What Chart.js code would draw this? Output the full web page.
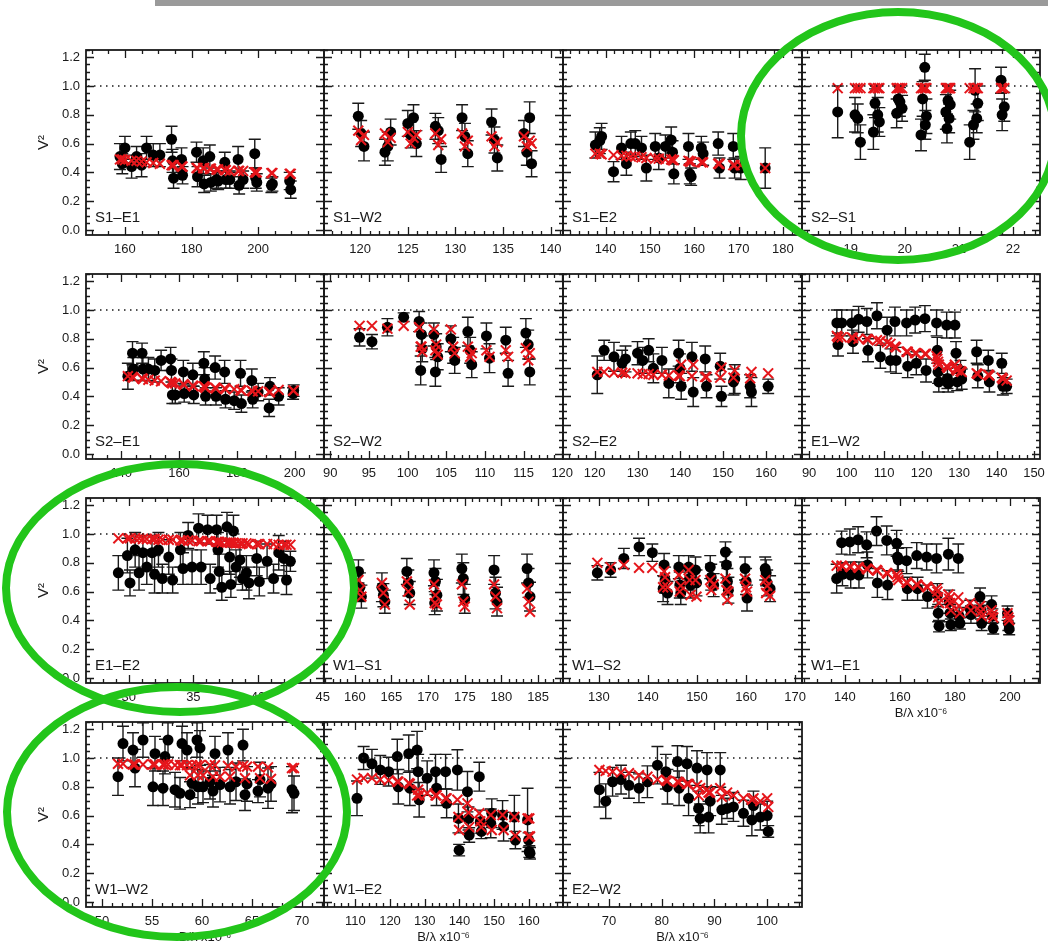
<!DOCTYPE html>
<html>
<head>
<meta charset="utf-8">
<script src="https://cdn.jsdelivr.net/npm/chart.js@4.4.1/dist/chart.umd.min.js"></script>
<style>
  html, body { margin: 0; padding: 0; background: #fff; }
  body { width: 1048px; height: 945px; position: relative; overflow: hidden; }
  canvas { position: absolute; }
  .bar { position: absolute; left: 155px; top: 0; width: 893px; height: 6px; background: #9a9a9a; }
  .ring { position: absolute; box-sizing: border-box; border: 8px solid #22c51a; border-radius: 50%; z-index: 5; }
</style>
</head>
<body>
<div class="bar"></div>
<div class="ring" style="left:737px; top:8px; width:322px; height:256px;"></div>
<div class="ring" style="left:2px; top:460px; width:356px; height:256px;"></div>
<div class="ring" style="left:3px; top:683px; width:348px; height:258px;"></div>

<script>
// ---- S1-E1 ----
const s1e1X = [158.5, 159.2, 160.0, 162.0, 163.5, 165.0, 166.5, 168.5, 170.5, 174.0, 174.3, 174.6, 177.0, 177.3, 181.5, 181.8, 183.5, 183.8, 185.5, 185.8, 187.5, 188.0, 190.0, 190.3, 191.5, 194.0, 194.3, 195.5, 199.0, 199.3, 199.6, 204.0, 204.3, 209.5, 209.8];
const s1e1V2 = [0.51, 0.46, 0.57, 0.44, 0.51, 0.45, 0.57, 0.52, 0.52, 0.63, 0.48, 0.36, 0.49, 0.38, 0.54, 0.37, 0.48, 0.32, 0.51, 0.33, 0.35, 0.34, 0.47, 0.35, 0.35, 0.49, 0.31, 0.35, 0.53, 0.36, 0.33, 0.31, 0.32, 0.34, 0.28];
const s1e1Err = [0.09, 0.07, 0.08, 0.08, 0.07, 0.08, 0.08, 0.08, 0.08, 0.09, 0.08, 0.07, 0.08, 0.06, 0.07, 0.07, 0.09, 0.06, 0.08, 0.06, 0.06, 0.06, 0.07, 0.06, 0.06, 0.09, 0.06, 0.06, 0.10, 0.07, 0.06, 0.05, 0.05, 0.06, 0.06];
const s1e1Model = [0.49, 0.49, 0.485, 0.48, 0.48, 0.475, 0.47, 0.465, 0.46, 0.45, 0.45, 0.45, 0.44, 0.44, 0.43, 0.43, 0.43, 0.43, 0.425, 0.425, 0.42, 0.42, 0.415, 0.415, 0.41, 0.41, 0.41, 0.41, 0.40, 0.40, 0.40, 0.395, 0.395, 0.39, 0.39];

// ---- S1-W2 ----
const s1w2X = [119.8, 120.1, 120.4, 122.6, 122.9, 123.2, 125.0, 125.3, 125.6, 125.9, 127.9, 128.2, 128.5, 130.7, 131.0, 131.3, 133.8, 134.1, 134.4, 137.2, 137.5, 137.8, 138.0];
const s1w2V2 = [0.79, 0.67, 0.58, 0.54, 0.58, 0.68, 0.74, 0.66, 0.78, 0.60, 0.72, 0.69, 0.49, 0.78, 0.65, 0.53, 0.75, 0.625, 0.50, 0.67, 0.54, 0.78, 0.46];
const s1w2Err = [0.09, 0.09, 0.10, 0.09, 0.10, 0.09, 0.09, 0.09, 0.09, 0.09, 0.09, 0.09, 0.09, 0.09, 0.09, 0.09, 0.09, 0.09, 0.09, 0.09, 0.09, 0.11, 0.09];
const s1w2Model = [0.69, 0.625, 0.66, 0.67, 0.61, 0.64, 0.68, 0.60, 0.64, 0.66, 0.67, 0.59, 0.63, 0.67, 0.58, 0.62, 0.65, 0.58, 0.61, 0.65, 0.58, 0.62, 0.60];

// ---- S1-E2 ----
const s1e2X = [137.7, 138.7, 139.1, 141.8, 143.6, 144.7, 145.7, 146.7, 148.1, 149.2, 151.2, 152.0, 153.5, 154.8, 155.1, 155.4, 158.7, 159.0, 159.3, 161.6, 162.0, 165.4, 165.7, 168.8, 169.1, 170.5, 176.0];
const s1e2V2 = [0.59, 0.62, 0.65, 0.405, 0.57, 0.46, 0.60, 0.60, 0.57, 0.43, 0.58, 0.50, 0.58, 0.625, 0.54, 0.39, 0.58, 0.39, 0.37, 0.57, 0.53, 0.60, 0.43, 0.58, 0.43, 0.43, 0.43];
const s1e2Err = [0.09, 0.09, 0.09, 0.07, 0.08, 0.08, 0.08, 0.09, 0.08, 0.09, 0.09, 0.08, 0.08, 0.09, 0.08, 0.07, 0.09, 0.07, 0.06, 0.08, 0.08, 0.08, 0.07, 0.09, 0.07, 0.08, 0.14];
const s1e2Model = [0.53, 0.53, 0.525, 0.52, 0.515, 0.515, 0.51, 0.51, 0.505, 0.50, 0.495, 0.495, 0.49, 0.49, 0.485, 0.485, 0.48, 0.475, 0.475, 0.47, 0.47, 0.46, 0.46, 0.45, 0.45, 0.45, 0.43];

// ---- S2-S1 ----
const s2s1X = [18.76, 19.08, 19.13, 19.18, 19.45, 19.50, 19.53, 19.42, 19.88, 19.91, 19.95, 19.85, 20.37, 20.33, 20.40, 20.38, 20.30, 20.80, 20.84, 20.76, 20.82, 20.78, 21.30, 21.35, 21.33, 21.27, 21.20, 21.78, 21.84, 21.80];
const s2s1V2 = [0.82, 0.80, 0.775, 0.61, 0.88, 0.80, 0.75, 0.68, 0.91, 0.89, 0.845, 0.81, 1.13, 0.91, 0.79, 0.73, 0.66, 0.90, 0.87, 0.82, 0.775, 0.705, 0.97, 0.88, 0.775, 0.73, 0.61, 1.04, 0.855, 0.80];
const s2s1Err = [0.18, 0.12, 0.10, 0.12, 0.10, 0.12, 0.10, 0.12, 0.09, 0.10, 0.09, 0.10, 0.09, 0.12, 0.12, 0.10, 0.11, 0.11, 0.10, 0.12, 0.10, 0.10, 0.15, 0.12, 0.10, 0.10, 0.12, 0.09, 0.10, 0.11];
const s2s1Model = [0.985, 0.985, 0.985, 0.985, 0.985, 0.985, 0.985, 0.985, 0.985, 0.985, 0.985, 0.985, 0.985, 0.985, 0.985, 0.985, 0.985, 0.985, 0.985, 0.985, 0.985, 0.985, 0.985, 0.985, 0.985, 0.985, 0.985, 0.985, 0.985, 0.985];

// ---- S2-E1 ----
const s2e1X = [142.3, 143.9, 144.2, 147.2, 147.5, 149.4, 151.6, 153.8, 157.1, 157.4, 157.7, 158.7, 161.5, 161.8, 164.8, 165.1, 168.6, 168.9, 169.2, 172.5, 172.8, 175.8, 176.1, 179.1, 181.3, 181.6, 185.2, 185.5, 187.4, 191.2, 191.5, 194.5, 199.5, 199.7];
const s2e1V2 = [0.54, 0.70, 0.59, 0.70, 0.59, 0.59, 0.58, 0.65, 0.66, 0.58, 0.41, 0.41, 0.57, 0.42, 0.55, 0.41, 0.63, 0.52, 0.40, 0.60, 0.40, 0.57, 0.38, 0.37, 0.56, 0.35, 0.51, 0.38, 0.43, 0.32, 0.47, 0.40, 0.42, 0.44];
const s2e1Err = [0.09, 0.08, 0.08, 0.07, 0.08, 0.08, 0.08, 0.07, 0.08, 0.08, 0.06, 0.06, 0.08, 0.06, 0.08, 0.06, 0.08, 0.08, 0.06, 0.08, 0.06, 0.08, 0.06, 0.06, 0.09, 0.06, 0.08, 0.06, 0.06, 0.06, 0.06, 0.06, 0.04, 0.04];
const s2e1Model = [0.54, 0.535, 0.53, 0.525, 0.52, 0.515, 0.51, 0.505, 0.50, 0.495, 0.49, 0.49, 0.485, 0.48, 0.475, 0.47, 0.47, 0.465, 0.46, 0.46, 0.455, 0.455, 0.45, 0.45, 0.445, 0.44, 0.44, 0.435, 0.435, 0.43, 0.43, 0.445, 0.44, 0.44];

// ---- S2-W2 ----
const s2w2X = [93.8, 95.4, 97.4, 99.5, 101.5, 101.8, 101.9, 101.7, 103.4, 103.7, 103.9, 103.6, 105.6, 105.9, 106.1, 107.8, 108.1, 108.3, 110.2, 110.6, 112.7, 113.0, 115.3, 115.6, 115.8];
const s2w2V2 = [0.81, 0.78, 0.88, 0.95, 0.92, 0.83, 0.73, 0.58, 0.83, 0.745, 0.675, 0.57, 0.80, 0.72, 0.65, 0.85, 0.72, 0.62, 0.82, 0.665, 0.79, 0.56, 0.84, 0.76, 0.57];
const s2w2Err = [0.06, 0.05, 0.06, 0.03, 0.07, 0.08, 0.09, 0.10, 0.08, 0.09, 0.09, 0.10, 0.09, 0.09, 0.09, 0.10, 0.09, 0.09, 0.09, 0.10, 0.09, 0.09, 0.10, 0.10, 0.09];
const s2w2Model = [0.89, 0.89, 0.87, 0.89, 0.88, 0.745, 0.71, 0.745, 0.865, 0.76, 0.69, 0.72, 0.865, 0.745, 0.70, 0.745, 0.675, 0.70, 0.72, 0.675, 0.72, 0.675, 0.735, 0.65, 0.70];

// ---- S2-E2 ----
const s2e2X = [120.6, 122.2, 124.5, 126.4, 127.2, 130.0, 131.2, 132.6, 133.7, 135.7, 137.3, 139.6, 139.9, 140.2, 142.7, 143.0, 145.8, 146.1, 149.3, 149.6, 152.4, 152.7, 156.3, 156.6, 160.5];
const s2e2V2 = [0.55, 0.72, 0.675, 0.63, 0.66, 0.70, 0.65, 0.72, 0.595, 0.65, 0.49, 0.70, 0.595, 0.47, 0.675, 0.43, 0.66, 0.47, 0.61, 0.40, 0.50, 0.52, 0.47, 0.43, 0.47];
const s2e2Err = [0.13, 0.07, 0.10, 0.09, 0.09, 0.08, 0.09, 0.08, 0.10, 0.09, 0.10, 0.09, 0.10, 0.09, 0.10, 0.10, 0.09, 0.08, 0.09, 0.07, 0.09, 0.10, 0.08, 0.10, 0.05];
const s2e2Model = [0.57, 0.57, 0.565, 0.565, 0.56, 0.56, 0.555, 0.555, 0.55, 0.55, 0.545, 0.545, 0.54, 0.62, 0.54, 0.62, 0.535, 0.535, 0.53, 0.60, 0.53, 0.58, 0.525, 0.57, 0.56];

// ---- E1-W2 ----
const e1w2X = [97.4, 97.7, 98.7, 101.4, 101.7, 103.2, 105.4, 105.7, 108.1, 109.0, 110.8, 111.7, 112.9, 113.2, 116.0, 116.3, 118.3, 118.6, 120.9, 121.2, 124.0, 124.2, 124.4, 124.6, 126.7, 126.9, 127.1, 128.9, 129.2, 129.5, 130.4, 130.7, 134.7, 135.0, 137.8, 138.1, 141.4, 141.7, 142.7];
const e1w2V2 = [0.91, 0.76, 0.91, 0.91, 0.78, 0.935, 0.92, 0.72, 0.96, 0.675, 0.86, 0.65, 0.92, 0.65, 0.91, 0.61, 0.93, 0.63, 0.94, 0.58, 0.91, 0.72, 0.57, 0.50, 0.895, 0.525, 0.49, 0.895, 0.70, 0.50, 0.58, 0.52, 0.71, 0.54, 0.65, 0.50, 0.63, 0.47, 0.47];
const e1w2Err = [0.09, 0.08, 0.09, 0.09, 0.08, 0.09, 0.09, 0.08, 0.09, 0.08, 0.09, 0.08, 0.10, 0.09, 0.09, 0.08, 0.09, 0.08, 0.09, 0.08, 0.09, 0.09, 0.08, 0.07, 0.09, 0.07, 0.06, 0.09, 0.08, 0.06, 0.07, 0.07, 0.08, 0.08, 0.07, 0.07, 0.07, 0.06, 0.05];
const e1w2Model = [0.82, 0.81, 0.81, 0.81, 0.805, 0.80, 0.80, 0.795, 0.79, 0.785, 0.775, 0.765, 0.745, 0.74, 0.71, 0.71, 0.70, 0.70, 0.695, 0.695, 0.68, 0.66, 0.64, 0.62, 0.61, 0.60, 0.60, 0.62, 0.59, 0.58, 0.575, 0.57, 0.56, 0.555, 0.55, 0.545, 0.53, 0.52, 0.51];

// ---- E1-E2 ----
const e1e2X = [29.2, 29.9, 30.1, 30.5, 30.8, 31.1, 31.4, 31.8, 32.0, 32.3, 32.6, 33.1, 33.4, 34.0, 34.2, 34.6, 34.9, 35.4, 35.6, 36.1, 36.3, 36.8, 36.9, 37.0, 37.2, 37.6, 37.8, 37.9, 38.1, 38.3, 38.6, 38.8, 39.1, 39.3, 39.9, 40.1, 40.7, 41.2, 41.6, 42.0, 42.2, 42.5];
const e1e2V2 = [0.73, 0.85, 0.66, 0.89, 0.73, 0.87, 0.77, 0.87, 0.72, 0.89, 0.69, 0.84, 0.68, 0.89, 0.76, 0.99, 0.77, 1.04, 0.77, 1.03, 0.69, 1.03, 0.89, 0.74, 0.63, 1.05, 0.84, 0.65, 1.02, 0.77, 0.82, 0.69, 0.73, 0.66, 0.83, 0.67, 0.81, 0.69, 0.87, 0.83, 0.68, 0.81];
const e1e2Err = [0.12, 0.12, 0.09, 0.12, 0.12, 0.12, 0.12, 0.12, 0.13, 0.12, 0.10, 0.12, 0.09, 0.12, 0.11, 0.09, 0.12, 0.10, 0.12, 0.10, 0.10, 0.10, 0.12, 0.12, 0.09, 0.10, 0.12, 0.09, 0.11, 0.12, 0.12, 0.08, 0.12, 0.11, 0.12, 0.10, 0.12, 0.10, 0.12, 0.12, 0.10, 0.07];
const e1e2Model = [0.97, 0.97, 0.97, 0.97, 0.97, 0.965, 0.965, 0.965, 0.965, 0.96, 0.96, 0.96, 0.96, 0.955, 0.955, 0.955, 0.955, 0.95, 0.95, 0.95, 0.95, 0.945, 0.945, 0.945, 0.94, 0.94, 0.94, 0.94, 0.94, 0.935, 0.935, 0.935, 0.935, 0.93, 0.93, 0.93, 0.93, 0.93, 0.925, 0.925, 0.925, 0.925];

// ---- W1-S1 ----
const w1s1X = [160.5, 160.7, 160.9, 163.7, 163.9, 164.1, 167.1, 167.3, 167.5, 170.8, 171.0, 171.2, 170.9, 174.6, 174.8, 175.0, 179.0, 179.2, 179.4, 183.5, 183.7, 183.9];
const w1s1V2 = [0.74, 0.63, 0.565, 0.63, 0.575, 0.53, 0.74, 0.66, 0.59, 0.73, 0.67, 0.575, 0.52, 0.76, 0.69, 0.55, 0.75, 0.59, 0.53, 0.76, 0.66, 0.565];
const w1s1Err = [0.08, 0.10, 0.08, 0.10, 0.08, 0.08, 0.09, 0.09, 0.08, 0.09, 0.09, 0.11, 0.08, 0.10, 0.11, 0.10, 0.10, 0.11, 0.10, 0.10, 0.10, 0.10];
const w1s1Model = [0.68, 0.61, 0.565, 0.66, 0.59, 0.51, 0.67, 0.60, 0.51, 0.65, 0.575, 0.51, 0.52, 0.65, 0.53, 0.495, 0.65, 0.565, 0.485, 0.62, 0.53, 0.46];

// ---- W1-S2 ----
const w1s2X = [129.7, 132.4, 135.1, 138.2, 140.9, 143.3, 143.5, 143.1, 144.0, 146.3, 146.5, 146.7, 148.3, 148.5, 148.7, 149.7, 149.9, 152.7, 152.9, 153.4, 155.8, 156.0, 156.2, 156.4, 159.8, 160.0, 160.2, 163.9, 164.1, 164.3, 164.9];
const w1s2V2 = [0.73, 0.75, 0.83, 0.91, 0.87, 0.785, 0.68, 0.62, 0.59, 0.77, 0.645, 0.59, 0.77, 0.69, 0.645, 0.75, 0.66, 0.77, 0.70, 0.645, 0.875, 0.785, 0.67, 0.61, 0.76, 0.67, 0.555, 0.76, 0.73, 0.66, 0.62];
const w1s2Err = [0.05, 0.05, 0.07, 0.06, 0.06, 0.08, 0.09, 0.09, 0.08, 0.08, 0.09, 0.08, 0.08, 0.08, 0.09, 0.09, 0.09, 0.08, 0.09, 0.08, 0.07, 0.09, 0.09, 0.09, 0.08, 0.09, 0.09, 0.08, 0.09, 0.09, 0.09];
const w1s2Model = [0.80, 0.77, 0.785, 0.765, 0.765, 0.74, 0.70, 0.63, 0.63, 0.715, 0.60, 0.64, 0.75, 0.68, 0.576, 0.68, 0.565, 0.68, 0.61, 0.65, 0.69, 0.61, 0.54, 0.60, 0.69, 0.63, 0.60, 0.68, 0.59, 0.64, 0.57];

// ---- W1-E1 ----
const w1e1X = [137.0, 138.8, 139.1, 141.8, 142.1, 144.8, 145.1, 147.9, 148.2, 151.5, 151.8, 155.2, 155.5, 158.8, 159.1, 159.4, 162.4, 162.7, 166.1, 166.4, 169.7, 170.0, 173.3, 173.6, 173.9, 174.2, 177.6, 177.9, 178.2, 178.5, 181.2, 181.5, 181.8, 185.5, 185.8, 189.1, 189.4, 189.7, 193.3, 193.6, 193.9, 199.1, 199.4, 199.7];
const w1e1V2 = [0.69, 0.94, 0.72, 0.945, 0.715, 0.96, 0.715, 0.925, 0.785, 1.02, 0.66, 0.955, 0.645, 0.935, 0.84, 0.82, 0.815, 0.62, 0.85, 0.62, 0.84, 0.565, 0.83, 0.575, 0.45, 0.36, 0.86, 0.53, 0.45, 0.37, 0.83, 0.43, 0.38, 0.48, 0.44, 0.565, 0.47, 0.38, 0.51, 0.43, 0.345, 0.45, 0.38, 0.34];
const w1e1Err = [0.10, 0.08, 0.08, 0.09, 0.09, 0.09, 0.09, 0.09, 0.09, 0.10, 0.10, 0.10, 0.10, 0.09, 0.09, 0.08, 0.09, 0.08, 0.09, 0.08, 0.09, 0.08, 0.10, 0.08, 0.06, 0.04, 0.11, 0.08, 0.06, 0.04, 0.10, 0.06, 0.04, 0.06, 0.06, 0.06, 0.06, 0.05, 0.06, 0.05, 0.04, 0.05, 0.05, 0.04];
const w1e1Model = [0.78, 0.78, 0.775, 0.775, 0.77, 0.77, 0.765, 0.76, 0.755, 0.75, 0.745, 0.73, 0.725, 0.72, 0.70, 0.68, 0.665, 0.66, 0.65, 0.645, 0.635, 0.63, 0.62, 0.60, 0.56, 0.52, 0.58, 0.55, 0.52, 0.47, 0.56, 0.50, 0.45, 0.52, 0.47, 0.50, 0.46, 0.43, 0.47, 0.44, 0.42, 0.45, 0.42, 0.40];

// ---- W1-W2 ----
const w1w2X = [51.6, 52.1, 53.1, 53.3, 54.1, 55.1, 55.3, 56.1, 56.3, 56.6, 57.3, 57.8, 58.0, 58.5, 58.8, 59.0, 59.5, 59.6, 59.8, 60.1, 60.8, 61.1, 61.3, 61.8, 62.6, 62.8, 63.4, 64.1, 64.3, 64.5, 65.6, 65.8, 66.6, 66.9, 69.0, 69.2];
const w1w2V2 = [0.87, 1.10, 1.055, 0.93, 1.125, 0.80, 1.03, 0.79, 1.01, 1.125, 0.78, 0.755, 1.10, 1.055, 0.745, 0.825, 1.125, 0.80, 1.07, 0.80, 0.835, 0.77, 1.03, 0.815, 1.055, 0.80, 0.835, 1.09, 0.745, 0.82, 0.77, 0.85, 0.79, 0.82, 0.78, 0.755];
const w1w2Err = [0.13, 0.12, 0.12, 0.13, 0.12, 0.13, 0.12, 0.12, 0.12, 0.12, 0.12, 0.11, 0.12, 0.12, 0.09, 0.10, 0.12, 0.12, 0.12, 0.11, 0.12, 0.11, 0.12, 0.12, 0.12, 0.12, 0.13, 0.11, 0.11, 0.12, 0.08, 0.12, 0.14, 0.12, 0.16, 0.12];
const w1w2Model = [0.96, 0.96, 0.955, 0.955, 0.955, 0.955, 0.955, 0.955, 0.955, 0.955, 0.95, 0.95, 0.95, 0.95, 0.88, 0.95, 0.95, 0.88, 0.95, 0.88, 0.95, 0.87, 0.95, 0.87, 0.945, 0.87, 0.94, 0.945, 0.86, 0.94, 0.94, 0.86, 0.935, 0.855, 0.93, 0.93];

// ---- W1-E2 ----
const w1e2X = [110.5, 112.4, 114.8, 117.2, 119.6, 122.1, 122.4, 125.4, 125.7, 127.8, 128.1, 128.4, 130.7, 133.1, 133.4, 136.0, 136.3, 139.4, 139.7, 139.9, 142.3, 142.6, 142.8, 145.7, 146.0, 146.3, 149.0, 149.3, 152.4, 152.7, 155.8, 156.1, 159.6, 159.9, 160.1, 160.3];
const w1e2V2 = [0.72, 1.00, 0.96, 0.917, 0.905, 1.01, 0.80, 1.03, 0.79, 1.055, 0.905, 0.71, 0.86, 0.905, 0.79, 0.905, 0.685, 0.917, 0.58, 0.36, 0.766, 0.58, 0.465, 0.87, 0.558, 0.49, 0.546, 0.616, 0.604, 0.523, 0.59, 0.43, 0.57, 0.43, 0.35, 0.338];
const w1e2Err = [0.12, 0.08, 0.10, 0.10, 0.10, 0.12, 0.12, 0.13, 0.12, 0.13, 0.12, 0.12, 0.12, 0.12, 0.12, 0.12, 0.10, 0.14, 0.10, 0.04, 0.14, 0.08, 0.05, 0.10, 0.08, 0.05, 0.10, 0.10, 0.10, 0.10, 0.15, 0.06, 0.22, 0.05, 0.04, 0.04];
const w1e2Model = [0.85, 0.86, 0.86, 0.85, 0.845, 0.835, 0.835, 0.825, 0.82, 0.74, 0.78, 0.74, 0.755, 0.74, 0.74, 0.72, 0.72, 0.71, 0.59, 0.50, 0.685, 0.62, 0.52, 0.616, 0.56, 0.52, 0.604, 0.50, 0.604, 0.50, 0.59, 0.46, 0.58, 0.455, 0.58, 0.455];

// ---- E2-W2 ----
const e2w2X = [68.2, 69.4, 70.7, 72.3, 73.8, 75.7, 77.3, 79.2, 80.8, 81.1, 83.0, 83.3, 84.8, 85.1, 86.7, 87.0, 87.3, 88.6, 88.9, 89.2, 91.1, 91.4, 92.4, 93.6, 95.5, 97.1, 97.4, 98.7, 100.0, 100.2];
const e2w2V2 = [0.78, 0.70, 0.835, 0.85, 0.81, 0.79, 0.835, 0.95, 0.905, 0.80, 0.975, 0.79, 0.96, 0.72, 0.93, 0.65, 0.58, 0.917, 0.59, 0.70, 0.917, 0.64, 0.65, 0.66, 0.616, 0.57, 0.67, 0.59, 0.60, 0.49];
const e2w2Err = [0.12, 0.12, 0.10, 0.10, 0.09, 0.10, 0.11, 0.13, 0.12, 0.12, 0.11, 0.12, 0.12, 0.12, 0.12, 0.12, 0.10, 0.12, 0.11, 0.10, 0.12, 0.10, 0.07, 0.10, 0.09, 0.11, 0.10, 0.09, 0.10, 0.04];
const e2w2Model = [0.917, 0.91, 0.905, 0.90, 0.894, 0.88, 0.87, 0.85, 0.845, 0.84, 0.835, 0.83, 0.82, 0.82, 0.81, 0.74, 0.79, 0.78, 0.76, 0.76, 0.79, 0.73, 0.76, 0.74, 0.72, 0.71, 0.72, 0.70, 0.72, 0.66];

// axis settings shared by every panel
const yTickValues = [0.0, 0.2, 0.4, 0.6, 0.8, 1.0, 1.2];
const Y_MIN = -0.035, Y_MAX = 1.25;
const AXIS_TITLE = 'B/λ x10⁻⁶';
const Y_TITLE = 'V²';

// grid of panel boxes on the page
const COL_LEFT = [86, 324, 563, 802];
const COL_RIGHT = [324, 563, 802, 1040];
const ROW_TOP = [50, 274, 498, 722];
const PANEL_H = 185;

const RED = '#e5161b';
const INK = '#1a1a1a';
const FONT = "'Liberation Sans', Arial, sans-serif";

const panels = [
  { name: 'S1–E1', row: 0, col: 0, x: s1e1X, v2: s1e1V2, err: s1e1Err, model: s1e1Model, min: 148.3, max: 219.8, step: 20, minor: 5 },
  { name: 'S1–W2', row: 0, col: 1, x: s1w2X, v2: s1w2V2, err: s1w2Err, model: s1w2Model, min: 116.2, max: 141.3, step: 5, minor: 1 },
  { name: 'S1–E2', row: 0, col: 2, x: s1e2X, v2: s1e2V2, err: s1e2Err, model: s1e2Model, min: 130.4, max: 184.3, step: 10, minor: 2 },
  { name: 'S2–S1', row: 0, col: 3, x: s2s1X, v2: s2s1V2, err: s2s1Err, model: s2s1Model, min: 18.1, max: 22.5, step: 1, minor: 0.2 },
  { name: 'S2–E1', row: 1, col: 0, x: s2e1X, v2: s2e1V2, err: s2e1Err, model: s2e1Model, min: 127.8, max: 210.2, step: 20, minor: 5 },
  { name: 'S2–W2', row: 1, col: 1, x: s2w2X, v2: s2w2V2, err: s2w2Err, model: s2w2Model, min: 89.2, max: 120.1, step: 5, minor: 1 },
  { name: 'S2–E2', row: 1, col: 2, x: s2e2X, v2: s2e2V2, err: s2e2Err, model: s2e2Model, min: 112.6, max: 168.4, step: 10, minor: 2 },
  { name: 'E1–W2', row: 1, col: 3, x: e1w2X, v2: e1w2V2, err: e1w2Err, model: e1w2Model, min: 88.1, max: 151.6, step: 10, minor: 2 },
  { name: 'E1–E2', row: 2, col: 0, x: e1e2X, v2: e1e2V2, err: e1e2Err, model: e1e2Model, min: 26.7, max: 45.1, step: 5, minor: 1 },
  { name: 'W1–S1', row: 2, col: 1, x: w1s1X, v2: w1s1V2, err: w1s1Err, model: w1s1Model, min: 155.8, max: 188.4, step: 5, minor: 1 },
  { name: 'W1–S2', row: 2, col: 2, x: w1s2X, v2: w1s2V2, err: w1s2Err, model: w1s2Model, min: 122.7, max: 171.4, step: 10, minor: 2 },
  { name: 'W1–E1', row: 2, col: 3, x: w1e1X, v2: w1e1V2, err: w1e1Err, model: w1e1Model, min: 124.4, max: 210.9, step: 20, minor: 5, title: true },
  { name: 'W1–W2', row: 3, col: 0, x: w1w2X, v2: w1w2V2, err: w1w2Err, model: w1w2Model, min: 48.4, max: 72.2, step: 5, minor: 1, title: true },
  { name: 'W1–E2', row: 3, col: 1, x: w1e2X, v2: w1e2V2, err: w1e2Err, model: w1e2Model, min: 101, max: 169.8, step: 10, minor: 2, title: true },
  { name: 'E2–W2', row: 3, col: 2, x: e2w2X, v2: e2w2V2, err: e2w2Err, model: e2w2Model, min: 61.3, max: 106.6, step: 10, minor: 2, title: true }
];

const zip = (xs, ys) => xs.map((x, i) => ({ x, y: ys[i] }));

// box, inward ticks, dotted unity line, error bars and the baseline name
function framePlugin(p) {
  return {
    id: 'frame',
    beforeDatasetsDraw(chart) {
      const { ctx, chartArea: a, scales: { x, y } } = chart;
      ctx.save();
      ctx.beginPath();
      ctx.rect(a.left, a.top, a.width, a.height);
      ctx.clip();
      ctx.strokeStyle = INK;
      ctx.lineWidth = 1.4;
      p.x.forEach((xv, i) => {
        const px = x.getPixelForValue(xv);
        const t = y.getPixelForValue(p.v2[i] + p.err[i]);
        const b = y.getPixelForValue(p.v2[i] - p.err[i]);
        ctx.beginPath();
        ctx.moveTo(px, t); ctx.lineTo(px, b);
        ctx.moveTo(px - 6, t); ctx.lineTo(px + 6, t);
        ctx.moveTo(px - 6, b); ctx.lineTo(px + 6, b);
        ctx.stroke();
      });
      ctx.restore();
    },
    afterDraw(chart) {
      const { ctx, chartArea: a, scales: { x, y } } = chart;
      ctx.save();
      ctx.strokeStyle = INK;

      // dotted line at V2 = 1
      const y1 = y.getPixelForValue(1.0);
      ctx.lineWidth = 1.5;
      ctx.setLineDash([1.5, 4.5]);
      ctx.beginPath();
      ctx.moveTo(a.left + 2, y1); ctx.lineTo(a.right, y1);
      ctx.stroke();
      ctx.setLineDash([]);

      // inward tick marks on all four sides
      ctx.lineWidth = 1.3;
      ctx.beginPath();
      for (let k = Math.ceil(p.min / p.minor - 1e-9); k * p.minor <= p.max + 1e-9; k++) {
        const v = k * p.minor;
        const major = Math.abs(v / p.step - Math.round(v / p.step)) < 1e-6;
        const len = major ? 8 : 4;
        const px = Math.round(x.getPixelForValue(v)) + 0.5;
        ctx.moveTo(px, a.bottom); ctx.lineTo(px, a.bottom - len);
        ctx.moveTo(px, a.top); ctx.lineTo(px, a.top + len);
      }
      for (let k = 0; k * 0.05 <= Y_MAX; k++) {
        const v = k * 0.05;
        const len = k % 4 === 0 ? 8 : 4;
        const py = Math.round(y.getPixelForValue(v)) + 0.5;
        ctx.moveTo(a.left, py); ctx.lineTo(a.left + len, py);
        ctx.moveTo(a.right, py); ctx.lineTo(a.right - len, py);
      }
      ctx.stroke();

      ctx.lineWidth = 1.8;
      ctx.strokeRect(a.left, a.top, a.width, a.height);

      ctx.fillStyle = INK;
      ctx.font = `15px ${FONT}`;
      ctx.textAlign = 'left';
      ctx.textBaseline = 'alphabetic';
      ctx.fillText(p.name, a.left + 9, a.bottom - 13);

      if (p.col === 0) {
        ctx.font = `15px ${FONT}`;
        ctx.translate(a.left - 42, (a.top + a.bottom) / 2);
        ctx.rotate(-Math.PI / 2);
        ctx.textAlign = 'center';
        ctx.textBaseline = 'middle';
        ctx.fillText(Y_TITLE, 0, 0);
      }
      ctx.restore();
    }
  };
}

const PAD_TOP = 10, PAD_RIGHT = 24, AXIS_H = 50;

panels.forEach(p => {
  const yw = p.col === 0 ? COL_LEFT[0] : 30;
  const plotW = COL_RIGHT[p.col] - COL_LEFT[p.col];
  const canvas = document.createElement('canvas');
  canvas.width = plotW + yw + PAD_RIGHT;
  canvas.height = PANEL_H + PAD_TOP + AXIS_H;
  canvas.style.left = (COL_LEFT[p.col] - yw) + 'px';
  canvas.style.top = (ROW_TOP[p.row] - PAD_TOP) + 'px';
  document.body.appendChild(canvas);

  new Chart(canvas, {
    type: 'scatter',
    data: {
      datasets: [
        {
          label: 'model',
          data: zip(p.x, p.model),
          pointStyle: 'crossRot',
          pointRadius: 7,
          borderColor: RED,
          backgroundColor: RED,
          borderWidth: 2,
          order: 0
        },
        {
          label: 'V2',
          data: zip(p.x, p.v2),
          pointStyle: 'circle',
          pointRadius: 5.5,
          backgroundColor: '#000',
          borderWidth: 0,
          order: 1
        }
      ]
    },
    options: {
      responsive: false,
      animation: false,
      devicePixelRatio: 1,
      events: [],
      layout: { padding: { top: PAD_TOP, right: PAD_RIGHT, left: 0, bottom: 0 } },
      plugins: { legend: { display: false }, tooltip: { enabled: false } },
      scales: {
        x: {
          type: 'linear',
          position: 'bottom',
          min: p.min,
          max: p.max,
          grid: { display: false, drawTicks: false },
          border: { display: false },
          ticks: {
            stepSize: p.step,
            includeBounds: false,
            autoSkip: false,
            maxRotation: 0,
            padding: 7,
            color: INK,
            font: { family: FONT, size: 13 }
          },
          title: {
            display: !!p.title,
            text: AXIS_TITLE,
            color: INK,
            font: { family: FONT, size: 13 },
            padding: { top: 0, bottom: 12 }
          },
          afterFit: s => { s.height = AXIS_H; s.paddingLeft = 0; s.paddingRight = 0; }
        },
        y: {
          type: 'linear',
          min: Y_MIN,
          max: Y_MAX,
          grid: { display: false, drawTicks: false },
          border: { display: false },
          afterBuildTicks: s => { s.ticks = yTickValues.map(v => ({ value: v })); },
          ticks: {
            display: p.col === 0,
            padding: 6,
            color: INK,
            font: { family: FONT, size: 13 },
            callback: v => v.toFixed(1)
          },
          afterFit: s => { s.width = yw; s.paddingTop = 0; s.paddingBottom = 0; }
        }
      }
    },
    plugins: [framePlugin(p)]
  });
});
</script>
</body>
</html>
